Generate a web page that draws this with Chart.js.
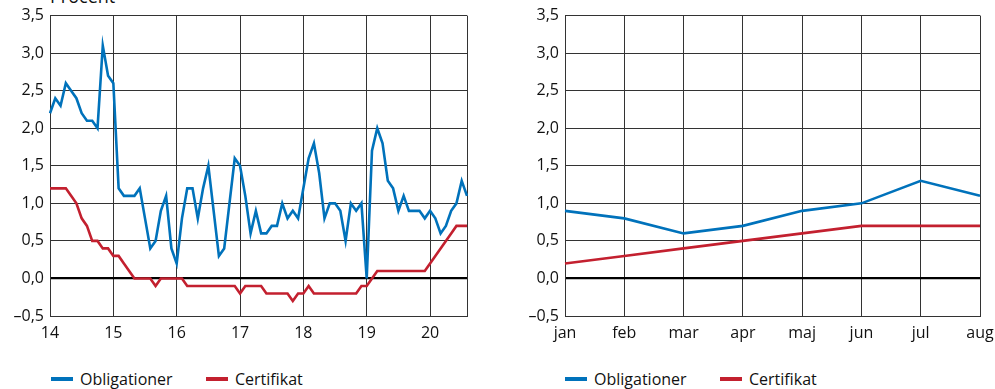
<!DOCTYPE html>
<html>
<head>
<meta charset="utf-8">
<script src="https://cdn.jsdelivr.net/npm/chart.js@4"></script>
<style>
  body { margin: 0; background: #fff; width: 995px; height: 389px; overflow: hidden; position: relative; font-family: "Open Sans", sans-serif; color: #111; }
  .box { position: absolute; top: 0; }
  .unit { position: absolute; left: 50px; top: -13px; font-size: 18px; line-height: 18px; }
  .leg { position: absolute; top: 369px; font-size: 16px; line-height: 20px; white-space: nowrap; }
  .leg i { position: absolute; left: 0; top: 8px; width: 22px; height: 4px; }
  .leg span { position: absolute; left: 29px; top: 0; }
</style>
</head>
<body>
<div class="unit">Procent</div>
<div class="box" style="left:0"><canvas id="left" width="497" height="350"></canvas></div>
<div class="box" style="left:497px"><canvas id="right" width="498" height="350"></canvas></div>

<div class="leg" style="left:51px"><i style="background:#0072bb"></i><span>Obligationer</span></div>
<div class="leg" style="left:206px"><i style="background:#c3202f"></i><span>Certifikat</span></div>
<div class="leg" style="left:565px"><i style="background:#0072bb"></i><span>Obligationer</span></div>
<div class="leg" style="left:720px"><i style="background:#c3202f"></i><span>Certifikat</span></div>

<script>
// --- Data: monthly, jan 2014 - aug 2020 ---
const startYear = 2014;
const monthCount = 80;

const obligationer = [
  2.2, 2.4, 2.3, 2.6, 2.5, 2.4, 2.2, 2.1, 2.1, 2.0, 3.1, 2.7,
  2.6, 1.2, 1.1, 1.1, 1.1, 1.2, 0.8, 0.4, 0.5, 0.9, 1.1, 0.4,
  0.2, 0.8, 1.2, 1.2, 0.8, 1.2, 1.5, 0.9, 0.3, 0.4, 1.0, 1.6,
  1.5, 1.1, 0.6, 0.9, 0.6, 0.6, 0.7, 0.7, 1.0, 0.8, 0.9, 0.8,
  1.2, 1.6, 1.8, 1.4, 0.8, 1.0, 1.0, 0.9, 0.5, 1.0, 0.9, 1.0,
  0.0, 1.7, 2.0, 1.8, 1.3, 1.2, 0.9, 1.1, 0.9, 0.9, 0.9, 0.8,
  0.9, 0.8, 0.6, 0.7, 0.9, 1.0, 1.3, 1.1
];

const certifikat = [
  1.2, 1.2, 1.2, 1.2, 1.1, 1.0, 0.8, 0.7, 0.5, 0.5, 0.4, 0.4,
  0.3, 0.3, 0.2, 0.1, 0.0, 0.0, 0.0, 0.0, -0.1, 0.0, 0.0, 0.0,
  0.0, 0.0, -0.1, -0.1, -0.1, -0.1, -0.1, -0.1, -0.1, -0.1, -0.1, -0.1,
  -0.2, -0.1, -0.1, -0.1, -0.1, -0.2, -0.2, -0.2, -0.2, -0.2, -0.3, -0.2,
  -0.2, -0.1, -0.2, -0.2, -0.2, -0.2, -0.2, -0.2, -0.2, -0.2, -0.2, -0.1,
  -0.1, 0.0, 0.1, 0.1, 0.1, 0.1, 0.1, 0.1, 0.1, 0.1, 0.1, 0.1,
  0.2, 0.3, 0.4, 0.5, 0.6, 0.7, 0.7, 0.7
];

// --- Data: 2020 ---
const months2020 = ['jan', 'feb', 'mar', 'apr', 'maj', 'jun', 'jul', 'aug'];
const obligationer2020 = [0.9, 0.8, 0.6, 0.7, 0.9, 1.0, 1.3, 1.1];
const certifikat2020 = [0.2, 0.3, 0.4, 0.5, 0.6, 0.7, 0.7, 0.7];

const BLUE = '#0072bb';
const RED = '#c3202f';
const GRID = '#333';
const FONT = { family: '"Open Sans", sans-serif', size: 16 };

// month labels like "2014-01"
const monthLabels = [];
for (let i = 0; i < monthCount; i++) {
  const y = startYear + Math.floor(i / 12);
  const m = (i % 12) + 1;
  monthLabels.push(y + '-' + String(m).padStart(2, '0'));
}

function fmtY(v) {
  const s = Math.abs(v).toFixed(1).replace('.', ',');
  return v < 0 ? '\u2013' + s : s;
}

function lineSet(label, data, color) {
  return {
    label: label,
    data: data,
    borderColor: color,
    backgroundColor: color,
    borderWidth: 2.6,
    pointRadius: 0,
    tension: 0,
    fill: false
  };
}

function yScale(width) {
  return {
    min: -0.5,
    max: 3.5,
    ticks: { stepSize: 0.5, color: '#111', font: FONT, padding: 6, callback: fmtY },
    grid: {
      drawTicks: false,
      color: ctx => (ctx.tick && ctx.tick.value === 0) ? '#000' : GRID,
      lineWidth: ctx => (ctx.tick && ctx.tick.value === 0) ? 2.2 : 1
    },
    border: { display: true, color: GRID, width: 1 },
    afterFit: scale => { scale.width = width; }
  };
}

// x axis: fixed height, no label overflow padding (layout padding decides the edges)
function fitX(scale) {
  scale.height = 34;
  scale.paddingLeft = 0;
  scale.paddingRight = 0;
}

function baseOptions(xScale, yWidth, padRight) {
  return {
    responsive: false,
    animation: false,
    devicePixelRatio: 1,
    layout: { padding: { top: 15, right: padRight, left: 0, bottom: 0 } },
    plugins: { legend: { display: false }, tooltip: { enabled: false } },
    scales: { x: xScale, y: yScale(yWidth) }
  };
}

// --- Left chart: 2014-2020 ---
new Chart(document.getElementById('left'), {
  type: 'line',
  data: {
    labels: monthLabels,
    datasets: [
      lineSet('Certifikat', certifikat, RED),
      lineSet('Obligationer', obligationer, BLUE)
    ]
  },
  options: baseOptions({
    offset: false,
    ticks: {
      autoSkip: false,
      maxRotation: 0,
      color: '#111',
      font: FONT,
      padding: 8,
      callback: function (v, i) {
        const lbl = monthLabels[i];
        return lbl.endsWith('-01') ? lbl.slice(2, 4) : '';
      }
    },
    grid: {
      drawTicks: false,
      offset: false,
      color: ctx => (ctx.index % 12 === 0 || ctx.index === monthCount - 1) ? GRID : 'rgba(0,0,0,0)',
      lineWidth: 1
    },
    border: { display: true, color: GRID, width: 1 },
    afterFit: fitX
  }, 50, 30)
});

// --- Right chart: 2020 by month ---
new Chart(document.getElementById('right'), {
  type: 'line',
  data: {
    labels: months2020,
    datasets: [
      lineSet('Certifikat', certifikat2020, RED),
      lineSet('Obligationer', obligationer2020, BLUE)
    ]
  },
  options: baseOptions({
    offset: false,
    ticks: { autoSkip: false, maxRotation: 0, color: '#111', font: FONT, padding: 8 },
    grid: { drawTicks: false, offset: false, color: GRID, lineWidth: 1 },
    border: { display: true, color: GRID, width: 1 },
    afterFit: fitX
  }, 68, 15)
});
</script>
</body>
</html>
